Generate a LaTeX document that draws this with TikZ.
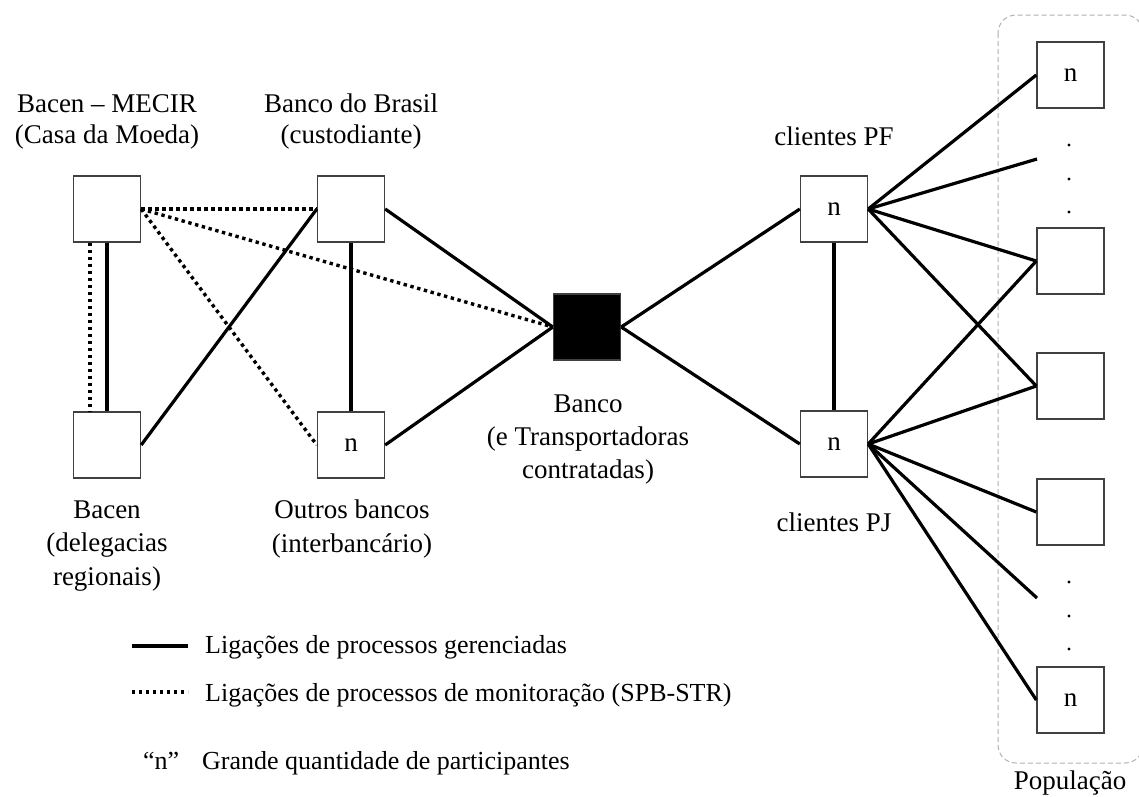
\documentclass[tikz,border=0pt]{standalone}
\usepackage{fontspec}
\setmainfont{Liberation Serif}
\begin{document}
\begin{tikzpicture}[x=1pt,y=-1pt,
  box/.style={draw=black!75,line width=1.4pt,fill=white,minimum width=67pt,minimum height=66pt,inner sep=0pt,font=\fontsize{27}{32}\selectfont},
  lbl/.style={align=center,anchor=base,inner sep=0pt,font=\fontsize{27}{33}\selectfont},
  legtext/.style={anchor=base west,inner sep=0pt,font=\fontsize{26}{31}\selectfont},
  solid link/.style={line width=3.2pt},
  dot link/.style={line width=3.4pt,dash pattern=on 3.4pt off 3.6pt},
  popdot/.style={fill=black,circle,inner sep=0pt,minimum size=3.4pt}]
\useasboundingbox (0,0) rectangle (1139,796);
\fill[white] (0,0) rectangle (1139,796);
% population frame
\draw[gray!60,line width=1pt,dash pattern=on 5pt off 3pt,rounded corners=18pt] (998,15) rectangle (1143,763);
% nodes
\node[box] (mecir) at (107,209) {};
\node[box] (bacen) at (107,445) {};
\node[box] (bb) at (351,209) {};
\node[box] (outros) at (351,445) {n};
\node[box,fill=black] (banco) at (587,327) {};
\node[box] (pf) at (834,209) {n};
\node[box] (pj) at (834,444) {n};
\node[box] (p1) at (1070.5,75) {n};
\node[box] (p2) at (1070.5,261) {};
\node[box] (p3) at (1070.5,386) {};
\node[box] (p4) at (1070.5,512) {};
\node[box] (p5) at (1070.5,700) {n};
\coordinate (d1) at (1037,159);
\coordinate (d2) at (1037,598);
\node[popdot] (a1) at (1069,145) {};
\node[popdot] (a2) at (1069,179) {};
\node[popdot] (a3) at (1069,212) {};
\node[popdot] (b1) at (1069,582) {};
\node[popdot] (b2) at (1069,616) {};
\node[popdot] (b3) at (1069,649) {};
% labels (anchor base = baseline of the last line)
\node[lbl,font=\fontsize{27}{31}\selectfont] (lmecir) at (107,143) {Bacen – MECIR\\(Casa da Moeda)};
\node[lbl,font=\fontsize{27}{31}\selectfont] (lbb) at (351,143) {Banco do Brasil\\(custodiante)};
\node[lbl,font=\fontsize{27}{33.5}\selectfont] (lbacen) at (107,585) {Bacen\\(delegacias\\regionais)};
\node[lbl,font=\fontsize{27}{34}\selectfont] (loutros) at (352,552) {Outros bancos\\(interbancário)};
\node[lbl,font=\fontsize{27}{33}\selectfont] (lbanco) at (588,478) {Banco\\(e Transportadoras\\contratadas)};
\node[lbl] (lpf) at (834,145) {clientes PF};
\node[lbl] (lpj) at (834,531) {clientes PJ};
\node[lbl] (lpop) at (1070,789) {População};
% dotted links
\draw[dot link] ([xshift=-17pt]mecir.south) -- ([xshift=-17pt]bacen.north);
\draw[dot link] (mecir.east) -- (bb.west);
\draw[dot link] (mecir.east) -- (banco.west);
\draw[dot link] (mecir.east) -- (outros.west);
% solid links
\draw[solid link] (mecir.south) -- (bacen.north);
\draw[solid link] (bacen.east) -- (bb.west);
\draw[solid link] (bb.south) -- (outros.north);
\draw[solid link] (bb.east) -- (banco.west);
\draw[solid link] (outros.east) -- (banco.west);
\draw[solid link] (banco.east) -- (pf.west);
\draw[solid link] (banco.east) -- (pj.west);
\draw[solid link] (pf.south) -- (pj.north);
\draw[solid link] (pf.east) -- (p1.west);
\draw[solid link] (pf.east) -- (d1);
\draw[solid link] (pf.east) -- (p2.west);
\draw[solid link] (pf.east) -- (p3.west);
\draw[solid link] (pj.east) -- (p2.west);
\draw[solid link] (pj.east) -- (p3.west);
\draw[solid link] (pj.east) -- (p4.west);
\draw[solid link] (pj.east) -- (d2);
\draw[solid link] (pj.east) -- (p5.west);
% legend
\coordinate (ls1) at (132,646);
\coordinate (ls2) at (188,646);
\coordinate (ld1) at (132,692);
\coordinate (ld2) at (188,692);
\draw[solid link] (ls1) -- (ls2);
\draw[dot link] (ld1) -- (ld2);
\node[legtext] (leg1) at (205,653) {Ligações de processos gerenciadas};
\node[legtext] (leg2) at (205,701) {Ligações de processos de monitoração (SPB-STR)};
\node[legtext] (legn) at (143,769) {“n”};
\node[legtext] (leg3) at (202,769) {Grande quantidade de participantes};
\end{tikzpicture}
\end{document}
